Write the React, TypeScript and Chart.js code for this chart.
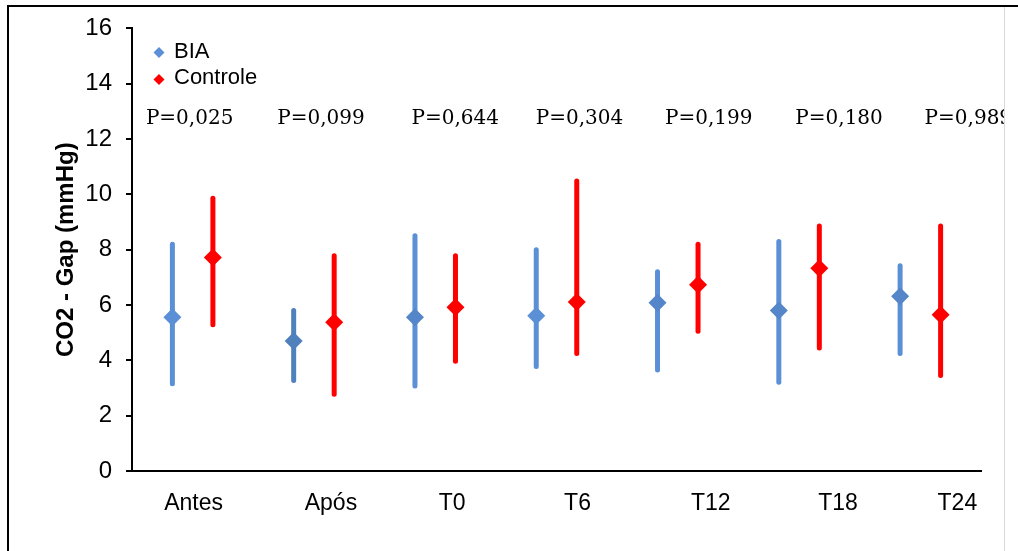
import React, { useEffect, useRef } from 'react';
import { Chart, registerables } from 'chart.js';

Chart.register(...registerables);

const categories = ['Antes', 'Após', 'T0', 'T6', 'T12', 'T18', 'T24'];
const pValues = ['P=0,025', 'P=0,099', 'P=0,644', 'P=0,304', 'P=0,199', 'P=0,180', 'P=0,989'];

const biaMean = [5.56, 4.7, 5.56, 5.61, 6.08, 5.8, 6.32];
const biaLow = [3.15, 3.27, 3.07, 3.78, 3.65, 3.21, 4.25];
const biaHigh = [8.2, 5.8, 8.5, 8.0, 7.2, 8.3, 7.42];

const ctrlMean = [7.72, 5.38, 5.92, 6.11, 6.73, 7.33, 5.65];
const ctrlLow = [5.29, 2.77, 3.97, 4.25, 5.05, 4.45, 3.45];
const ctrlHigh = [9.86, 7.78, 7.78, 10.48, 8.2, 8.86, 8.86];

const yTicks = [0, 2, 4, 6, 8, 10, 12, 14, 16];
const pLabelValue = 12.75;

// style-only
const BLUE = '#5b8fd6';
const BLUE_DARK = '#4f81bd';
const BLUE_MID = '#5486c9';
const RED = '#ff0000';
const biaBarColors = [BLUE, BLUE_DARK, BLUE, BLUE, BLUE, BLUE, BLUE];
const biaPointColors = [BLUE, BLUE_DARK, BLUE_MID, BLUE, BLUE_MID, BLUE_MID, BLUE_MID];
const labelOffsets = [1, 17, 17, 21, 33, 39, 37];
const pOffsets = [-3, 7, 20, 23, 31, 40, 48];
const GROUP_SHIFT = 0.167;

export default function App() {
  const ref = useRef<HTMLCanvasElement>(null);

  useEffect(() => {
    const canvas = ref.current!;

    const errorBars = {
      id: 'errorBars',
      beforeDatasetsDraw(chart: any) {
        const { ctx } = chart;
        const xs = chart.scales.x;
        const ys = chart.scales.y;
        ctx.save();
        ctx.lineWidth = 5;
        ctx.lineCap = 'round';
        const drawSet = (low: number[], high: number[], shift: number, colors: string[]) => {
          low.forEach((lo, i) => {
            const x = xs.getPixelForValue(i + shift);
            ctx.strokeStyle = colors[i];
            ctx.beginPath();
            ctx.moveTo(x, ys.getPixelForValue(lo));
            ctx.lineTo(x, ys.getPixelForValue(high[i]));
            ctx.stroke();
          });
        };
        drawSet(biaLow, biaHigh, -GROUP_SHIFT, biaBarColors);
        drawSet(ctrlLow, ctrlHigh, GROUP_SHIFT, categories.map(() => RED));
        ctx.restore();
      },
    };

    const diamond = (ctx: CanvasRenderingContext2D, x: number, y: number, r: number, color: string) => {
      ctx.fillStyle = color;
      ctx.beginPath();
      ctx.moveTo(x, y - r);
      ctx.lineTo(x + r, y);
      ctx.lineTo(x, y + r);
      ctx.lineTo(x - r, y);
      ctx.closePath();
      ctx.fill();
    };

    const texts = {
      id: 'texts',
      afterDraw(chart: any) {
        const { ctx, chartArea } = chart;
        const xs = chart.scales.x;
        const ys = chart.scales.y;
        ctx.save();
        // x category labels
        ctx.fillStyle = '#000';
        ctx.font = '23px "Liberation Sans", Arial, sans-serif';
        ctx.textAlign = 'center';
        ctx.textBaseline = 'alphabetic';
        categories.forEach((c, i) => {
          ctx.fillText(c, xs.getPixelForValue(i) + labelOffsets[i], chartArea.bottom + 39);
        });
        // p-values
        ctx.font = '20px "DejaVu Serif", serif';
        ctx.textBaseline = 'middle';
        const py = ys.getPixelForValue(pLabelValue);
        pValues.forEach((p, i) => {
          ctx.fillText(p, xs.getPixelForValue(i) + pOffsets[i], py);
        });
        // legend
        const lx = chartArea.left + 27;
        const ly1 = chartArea.top + 24;
        const ly2 = chartArea.top + 51;
        diamond(ctx, lx, ly1, 5.5, BLUE);
        diamond(ctx, lx, ly2, 5.5, RED);
        ctx.fillStyle = '#000';
        ctx.font = '22px "Liberation Sans", Arial, sans-serif';
        ctx.textAlign = 'left';
        ctx.textBaseline = 'middle';
        ctx.fillText('BIA', lx + 15, ly1);
        ctx.fillText('Controle', lx + 15, ly2 - 1);
        ctx.restore();
      },
    };

    const chart = new Chart(canvas, {
      type: 'scatter',
      data: {
        datasets: [
          {
            label: 'BIA',
            data: biaMean.map((v, i) => ({ x: i - GROUP_SHIFT, y: v })),
            pointStyle: 'rectRot',
            pointRadius: 9,
            pointHoverRadius: 9,
            pointBackgroundColor: biaPointColors,
            pointBorderColor: biaPointColors,
            pointBorderWidth: 0,
            showLine: false,
          },
          {
            label: 'Controle',
            data: ctrlMean.map((v, i) => ({ x: i + GROUP_SHIFT, y: v })),
            pointStyle: 'rectRot',
            pointRadius: 9,
            pointHoverRadius: 9,
            pointBackgroundColor: RED,
            pointBorderColor: RED,
            pointBorderWidth: 0,
            showLine: false,
          },
        ],
      },
      options: {
        animation: false,
        responsive: false,
        devicePixelRatio: 1,
        layout: { padding: { left: 0, top: 27, right: 23, bottom: 0 } },
        plugins: { legend: { display: false }, tooltip: { enabled: false } },
        scales: {
          x: {
            type: 'linear',
            min: -0.5,
            max: categories.length - 0.5,
            ticks: { display: false },
            grid: { display: false },
            border: { display: true, color: '#000', width: 2 },
            afterFit: (s: any) => {
              s.height = 80;
            },
          },
          y: {
            type: 'linear',
            min: yTicks[0],
            max: yTicks[yTicks.length - 1],
            afterBuildTicks: (s: any) => {
              s.ticks = yTicks.map((v) => ({ value: v }));
            },
            ticks: {
              color: '#000',
              padding: 14,
              font: { family: '"Liberation Sans", Arial, sans-serif', size: 24 },
            },
            grid: { drawOnChartArea: false, drawTicks: true, tickLength: 6, color: '#000', lineWidth: 2 },
            border: { display: true, color: '#000', width: 2 },
            title: {
              display: true,
              text: 'CO2 - Gap (mmHg)',
              color: '#000',
              font: { family: '"Liberation Sans", Arial, sans-serif', size: 24, weight: 'bold' },
              padding: { top: 52, bottom: 0 },
            },
            afterFit: (s: any) => {
              s.width = 132;
            },
          },
        },
      },
      plugins: [errorBars, texts],
    } as any);

    return () => chart.destroy();
  }, []);

  return (
    <div style={{ position: 'absolute', left: 0, top: 0, width: 1018, height: 551, background: '#fff', overflow: 'hidden' }}>
      <canvas ref={ref} width={1004} height={551} style={{ position: 'absolute', left: 0, top: 0, width: 1004, height: 551 }} />
      <div style={{ position: 'absolute', left: 7, top: 5, width: 1011, height: 2, background: '#000' }} />
      <div style={{ position: 'absolute', left: 7, top: 5, width: 2, height: 546, background: '#000' }} />
      <div style={{ position: 'absolute', left: 1004, top: 7, width: 1, height: 544, background: '#d9d9d9' }} />
    </div>
  );
}
